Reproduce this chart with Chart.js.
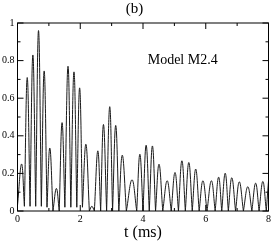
<!DOCTYPE html>
<html><head><meta charset="utf-8">
<script src="https://cdn.jsdelivr.net/npm/chart.js@4.4.0/dist/chart.umd.min.js"></script>
<style>html,body{margin:0;padding:0;background:#fff;overflow:hidden;}</style>
</head><body>
<canvas id="c" width="273" height="242" style="width:273px;height:242px;display:block"></canvas>
<script>
// Each lobe: starts at a trough (troughTimes/troughValues), rises to a peak (peakTimes/peakValues)
const troughTimes  = [0.00,0.22,0.40,0.58,0.76,0.94,1.13,1.33,1.51,1.70,1.89,2.07,2.29,2.45,2.65,2.84,3.03,3.23,3.47,3.80,4.00,4.20,4.40,4.63,4.90,5.13,5.35,5.57,5.79,6.04,6.30,6.51,6.72,6.95,7.20,7.47,7.70,7.93];
const troughValues = [0.03,0.025,0.025,0.025,0.025,0.02,0.0,0.0,0.02,0.02,0.02,0.02,0.0,0.0,0.0,0.0,0.0,0.0,0.0,0.0,0.0,0.0,0.0,0.0,0.0,0.0,0.0,0.0,0.0,0.0,0.0,0.0,0.0,0.0,0.0,0.0,0.0,0.0];
const peakTimes    = [0.13,0.31,0.49,0.67,0.85,1.03,1.24,1.42,1.61,1.80,1.98,2.18,2.37,2.56,2.74,2.94,3.13,3.34,3.65,3.90,4.10,4.30,4.51,4.77,5.02,5.24,5.46,5.68,5.91,6.18,6.41,6.62,6.83,7.07,7.34,7.59,7.82,8.00];
const peakValues   = [0.25,0.71,0.83,0.96,0.745,0.335,0.12,0.47,0.77,0.74,0.655,0.355,0.025,0.32,0.46,0.555,0.455,0.297,0.166,0.302,0.35,0.346,0.249,0.161,0.205,0.267,0.258,0.223,0.161,0.161,0.18,0.201,0.177,0.155,0.129,0.148,0.157,0.16];

const xTickLabels = [0,2,4,6,8];
const xMinorTicks = [1,3,5,7];
const yTickLabels = [0,0.2,0.4,0.6,0.8,1];
const yMinorTicks = [0.1,0.3,0.5,0.7,0.9];

const titleText = '(b)';
const annotationText = 'Model M2.4';
const xAxisTitle = 't (ms)';

// Build the point table: trough -> peak -> next trough (a trough shared by two lobes appears twice → sharp cusp)
const points = [];
for (let i = 0; i < peakTimes.length; i++) {
  points.push({x: troughTimes[i], y: troughValues[i]});
  points.push({x: peakTimes[i], y: peakValues[i]});
  if (i + 1 < troughTimes.length) points.push({x: troughTimes[i+1], y: troughValues[i+1]});
}

const SERIF = '"Liberation Serif", "Times New Roman", serif';

const framePlugin = {
  id: 'frame',
  afterDraw(chart) {
    const {ctx, chartArea: a, scales: {x, y}} = chart;
    ctx.save();
    ctx.strokeStyle = '#000';
    ctx.lineWidth = 1;
    ctx.strokeRect(a.left, a.top, a.right - a.left, a.bottom - a.top);
    ctx.beginPath();
    const xt = (vals, len) => vals.forEach(v => {
      const px = x.getPixelForValue(v);
      ctx.moveTo(px, a.bottom); ctx.lineTo(px, a.bottom - len);
      ctx.moveTo(px, a.top); ctx.lineTo(px, a.top + len);
    });
    const yt = (vals, len) => vals.forEach(v => {
      const py = y.getPixelForValue(v);
      ctx.moveTo(a.left, py); ctx.lineTo(a.left + len, py);
      ctx.moveTo(a.right, py); ctx.lineTo(a.right - len, py);
    });
    xt(xTickLabels, 6); xt(xMinorTicks, 3);
    yt(yTickLabels, 6); yt(yMinorTicks, 3);
    ctx.stroke();
    // annotation text
    ctx.fillStyle = '#000';
    ctx.font = '14px ' + SERIF;
    ctx.textAlign = 'left';
    ctx.textBaseline = 'alphabetic';
    ctx.fillText(annotationText, x.getPixelForValue(4.15), y.getPixelForValue(0.78));
    ctx.restore();
  }
};

new Chart(document.getElementById('c'), {
  type: 'line',
  data: {
    datasets: [{
      data: points,
      borderColor: '#1a1a1a',
      borderWidth: 1,
      pointRadius: 0,
      tension: 0.4,
      fill: false
    }]
  },
  options: {
    responsive: false,
    animation: false,
    devicePixelRatio: 1,
    layout: {padding: {left: 0, right: 4, top: 0, bottom: 0}},
    plugins: {
      legend: {display: false},
      tooltip: {enabled: false},
      title: {
        display: true, text: titleText, color: '#000',
        font: {family: SERIF, size: 15, weight: 'normal'},
        padding: {top: 0, bottom: 5}
      }
    },
    scales: {
      x: {
        type: 'linear', min: 0, max: 8,
        afterBuildTicks: s => { s.ticks = xTickLabels.map(v => ({value: v})); },
        afterFit: s => { s.height = 31; },
        grid: {display: false, drawTicks: false},
        border: {display: false},
        ticks: {color: '#000', font: {family: SERIF, size: 10}, padding: 2, maxRotation: 0, autoSkip: false, callback: v => String(v)},
        title: {display: true, text: xAxisTitle, color: '#000', font: {family: SERIF, size: 16}, padding: {top: 0, bottom: 0}}
      },
      y: {
        type: 'linear', min: 0, max: 1,
        afterBuildTicks: s => { s.ticks = yTickLabels.map(v => ({value: v})); },
        afterFit: s => { s.width = 17.5; },
        grid: {display: false, drawTicks: false},
        border: {display: false},
        ticks: {color: '#000', font: {family: SERIF, size: 10}, padding: 3, autoSkip: false, callback: v => String(v)}
      }
    }
  },
  plugins: [framePlugin]
});
</script>
</body></html>
